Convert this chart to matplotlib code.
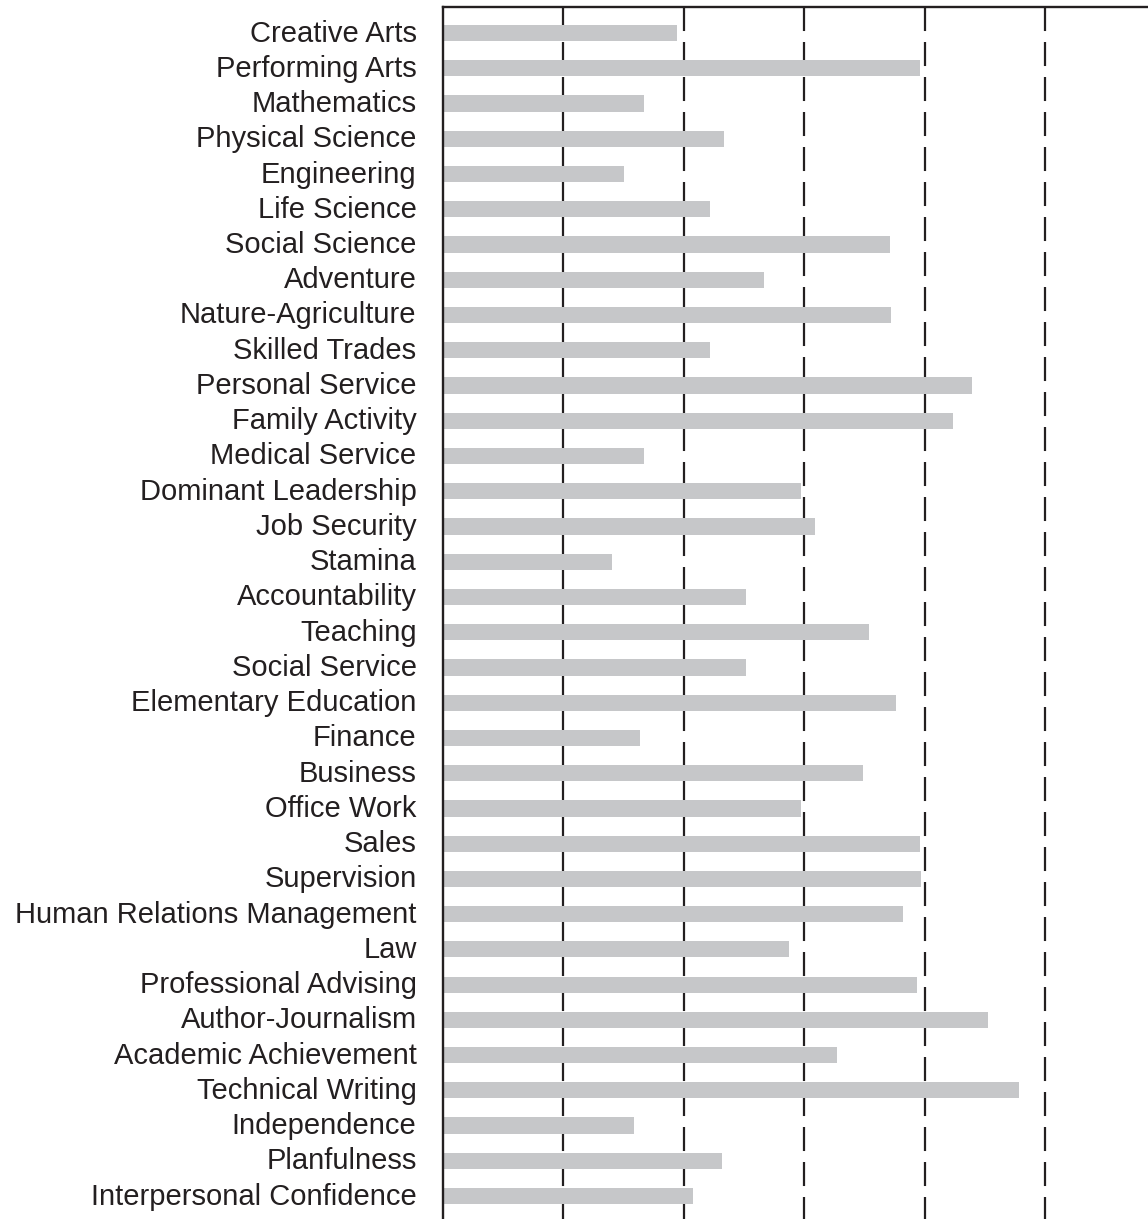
import matplotlib.pyplot as plt
import matplotlib.transforms as mtransforms
import numpy as np

plt.rcParams['font.family'] = ['Liberation Sans', 'DejaVu Sans']
plt.rcParams['lines.scale_dashes'] = False

categories = [
    "Creative Arts", "Performing Arts", "Mathematics", "Physical Science",
    "Engineering", "Life Science", "Social Science", "Adventure",
    "Nature-Agriculture", "Skilled Trades", "Personal Service",
    "Family Activity", "Medical Service", "Dominant Leadership",
    "Job Security", "Stamina", "Accountability", "Teaching",
    "Social Service", "Elementary Education", "Finance", "Business",
    "Office Work", "Sales", "Supervision", "Human Relations Management",
    "Law", "Professional Advising", "Author-Journalism",
    "Academic Achievement", "Technical Writing", "Independence",
    "Planfulness", "Interpersonal Confidence",
]
scores = [
    1.94, 3.96, 1.67, 2.33, 1.50, 2.22, 3.71, 2.67, 3.72, 2.22, 4.39,
    4.24, 1.67, 2.97, 3.09, 1.40, 2.52, 3.54, 2.52, 3.76, 1.64, 3.49,
    2.97, 3.96, 3.97, 3.82, 2.87, 3.94, 4.53, 3.27, 4.78, 1.59, 2.32,
    2.08,
]
grid_at = [1, 2, 3, 4, 5]

ink = "#231f20"
fig = plt.figure(figsize=(11.48, 12.19), dpi=100)
ax = fig.add_axes([0.3859, 0.0, 0.6141, 0.9943])

y = np.arange(len(categories))
ytop, ybot = -0.74, len(categories) - 1 + 0.65

ax.vlines(grid_at, ytop, ybot, colors=ink, linewidth=1.6,
          linestyles=(0, (17.3, 7.9)), zorder=1)
ax.barh(y, scores, height=0.46, color="#c6c7c9", zorder=2)

ax.set_ylim(ybot, ytop)
ax.set_xlim(0, 705 / 120.4)
ax.set_yticks(y)
ax.set_yticklabels(categories, fontsize=21, color=ink)
ax.tick_params(axis='y', length=0, pad=19)
# labels sit a touch above the bar centres in the original
shift = mtransforms.ScaledTranslation(0, 0.025, fig.dpi_scale_trans)
for lbl in ax.get_yticklabels():
    lbl.set_transform(lbl.get_transform() + shift)
ax.set_xticks([])
for pos in ('right', 'bottom'):
    ax.spines[pos].set_visible(False)
for pos in ('top', 'left'):
    ax.spines[pos].set_linewidth(1.7)
    ax.spines[pos].set_color(ink)

fig.savefig("out.png", dpi=100)
